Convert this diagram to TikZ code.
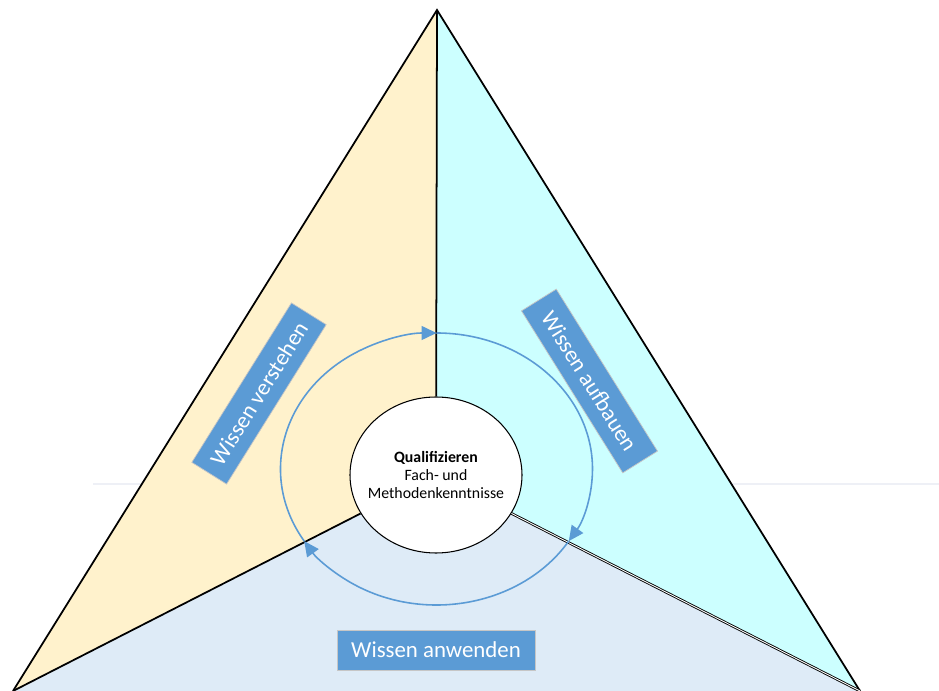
\documentclass[tikz,border=0pt]{standalone}
\usepackage{fontspec}
\setmainfont{Carlito}
\usetikzlibrary{arrows.meta,shapes.geometric}
\colorlet{penColor}{black}
\definecolor{verstehenColor}{HTML}{FFF2CC}
\definecolor{aufbauenColor}{HTML}{CCFFFF}
\definecolor{anwendenColor}{HTML}{DEEBF7}
\definecolor{boxColor}{HTML}{5B9BD5}
\definecolor{ruleColor}{HTML}{EEF0F6}
\tikzset{
  wissenbox/.style={fill=boxColor, draw=gray!45, line width=0.4pt, text=white, inner sep=0pt,
    minimum height=0.82cm, font=\fontsize{13}{15}\selectfont},
  kante/.style={penColor, line width=1pt},
  kreislauf/.style={boxColor, line width=0.9pt, -{Triangle[length=0.3cm,width=0.28cm]}},
}

\begin{document}
\begin{tikzpicture}
				\useasboundingbox (0,0) rectangle (18.78,13.82);
				\draw[ruleColor, line width=0.6pt] (1.86,4.14) -- (18.78,4.14);
				\coordinate (spitze) at (8.74,13.62);
				\coordinate (links) at (0.26,0);
				\coordinate (rechts) at (17.2,0);
				\coordinate (mitte) at (8.72,4.32);
				\coordinate (ring) at (8.73,4.44);
				% drei Felder
				\fill[verstehenColor] (spitze) -- (mitte) -- (links) -- cycle;
				\fill[aufbauenColor] (spitze) -- (mitte) -- (rechts) -- cycle;
				\fill[anwendenColor] (links) -- (mitte) -- (rechts) -- cycle;
				\draw[kante] (links) -- (spitze) -- (rechts);
				
				\node[ellipse, draw=penColor, fill=white, line width=0.6pt, inner sep=0pt,
					minimum width=3.44cm, minimum height=3.12cm] (kern) at (mitte) {};
				\node[align=center, font=\fontsize{9}{10}\selectfont] (kerntext) at (kern) {\textbf{Qualifizieren}\\Fach- und\\Methodenkenntnisse};
				\draw[kante] (kern) -- (spitze);
				\draw[kante] (kern) -- (links);
				\draw[penColor, line width=0.5pt, double=white, double distance=0.5pt] (kern) -- (rechts);
				
				% Kreislauf
				\draw[kreislauf] ([shift={(212:3.12cm and 2.72cm)}]ring) arc[start angle=212, end angle=90, x radius=3.12cm, y radius=2.72cm];
				\draw[kreislauf] ([shift={(90:3.12cm and 2.72cm)}]ring) arc[start angle=90, end angle=-32, x radius=3.12cm, y radius=2.72cm];
				\draw[kreislauf] ([shift={(-32:3.12cm and 2.72cm)}]ring) arc[start angle=-32, end angle=-148, x radius=3.12cm, y radius=2.72cm];
				
				\node[wissenbox, rotate=58, minimum width=3.76cm] (verstehen) at (5.18,5.95) {Wissen verstehen};
				\node[wissenbox, rotate=-58, minimum width=3.82cm] (aufbauen) at (11.79,6.2) {Wissen aufbauen};
				\node[wissenbox, minimum width=3.96cm, minimum height=0.8cm] (anwenden) at (8.72,0.82) {Wissen anwenden};
\end{tikzpicture}
\end{document}
